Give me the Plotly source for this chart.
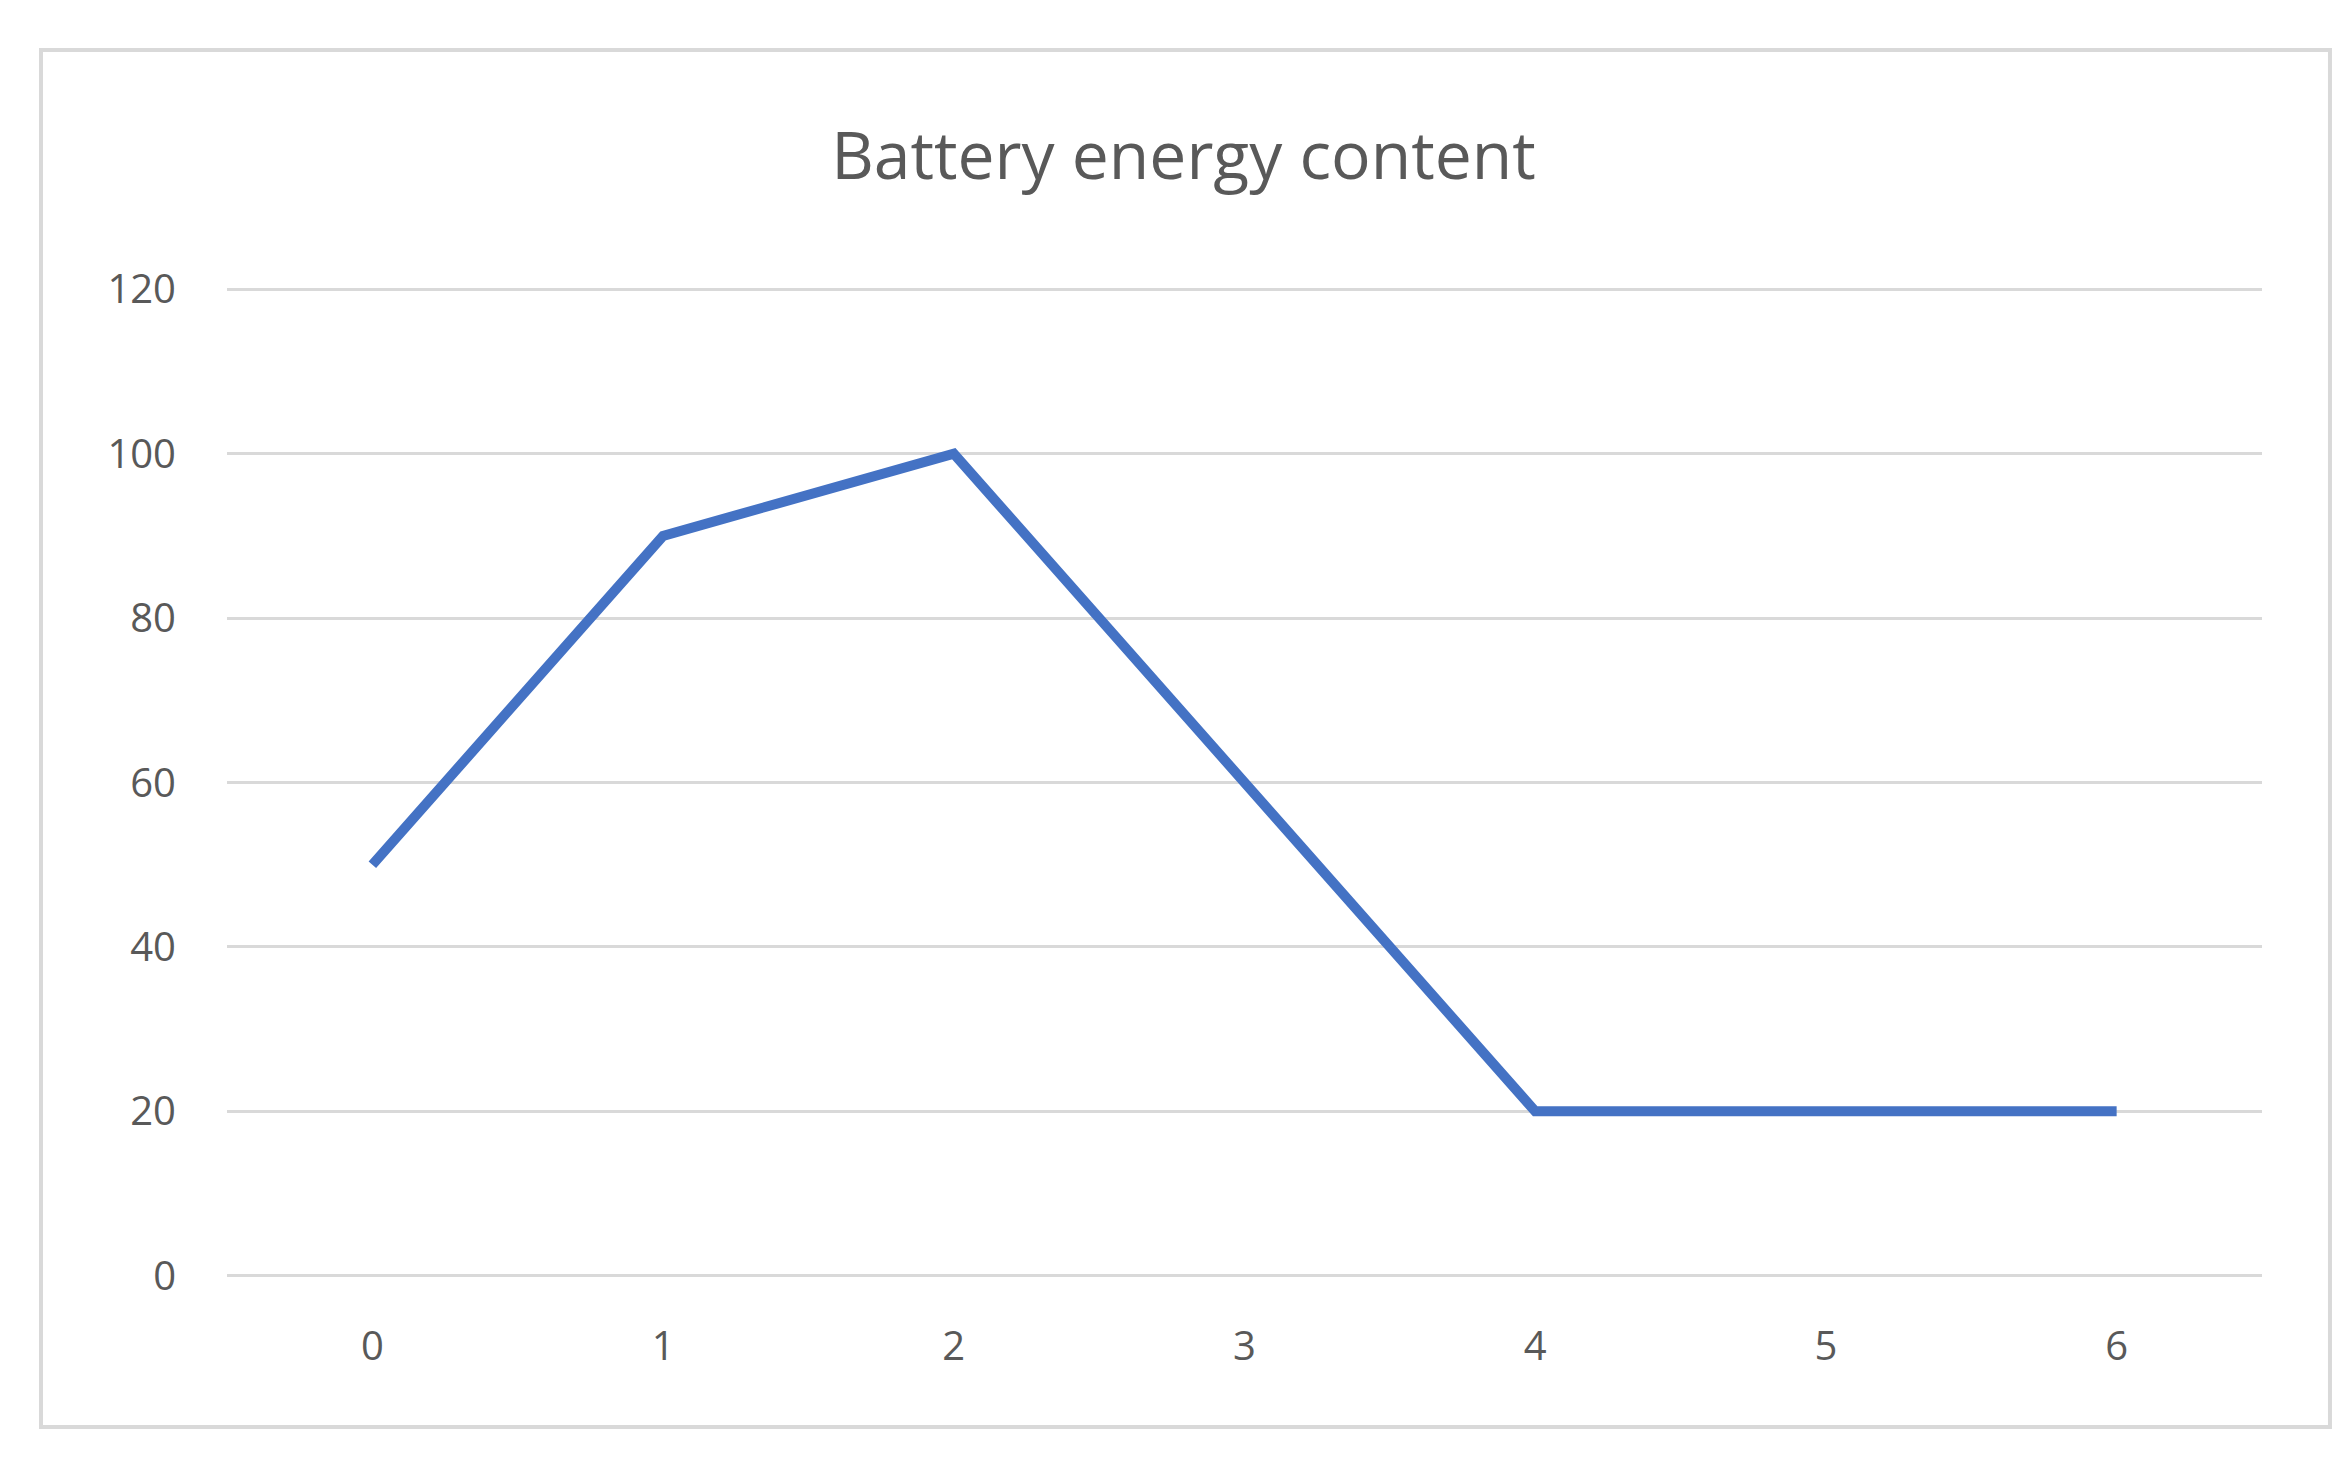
import plotly.graph_objects as go

hours = [0, 1, 2, 3, 4, 5, 6]
energy = [50, 90, 100, 60, 20, 20, 20]

fig = go.Figure()
fig.add_trace(go.Scatter(x=hours, y=energy, mode='lines',
                         line=dict(color='#4472C4', width=10), showlegend=False))

fig.update_layout(
    width=2351, height=1457,
    paper_bgcolor='white', plot_bgcolor='white',
    margin=dict(l=219, r=97, t=278, b=186),
    font=dict(family='Open Sans', color='#595959', size=40),
    title=dict(text='Battery energy content', x=0.5, xanchor='center',
               y=1 - 148 / 1457, yanchor='middle',
               font=dict(size=66, color='#595959')),
    xaxis=dict(range=[-0.5, 6.5], tickvals=hours, showgrid=False, zeroline=False,
               showline=False, ticks='', ticklabelstandoff=40),
    yaxis=dict(range=[-0.4, 120.4], tickvals=[0, 20, 40, 60, 80, 100, 120],
               gridcolor='#d9d9d9', gridwidth=3,
               zeroline=False, showline=False, ticks='', ticklabelstandoff=50),
    shapes=[dict(type='rect', xref='paper', yref='paper',
                 x0=-0.0914, x1=1.0334, y0=-0.149, y1=1.2377,
                 line=dict(color='#d9d9d9', width=4))],
)

fig.write_html("out.html")
